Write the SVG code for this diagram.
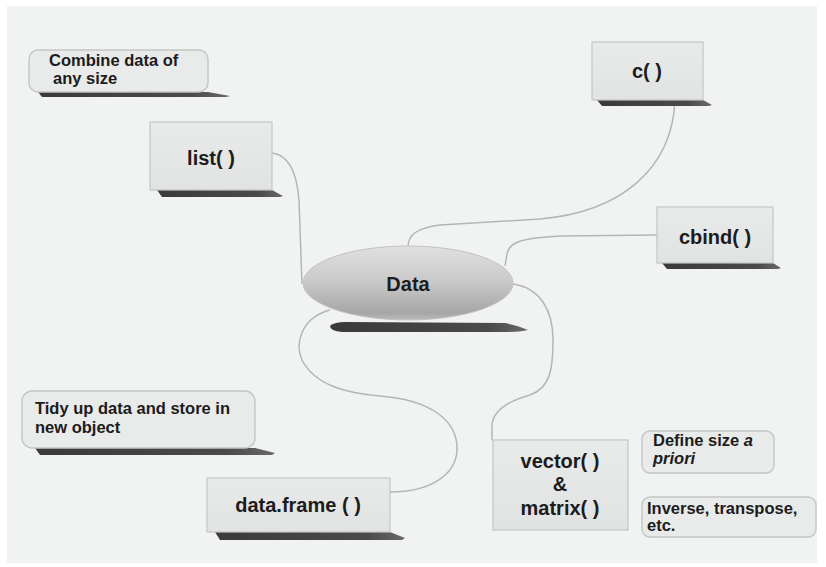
<svg xmlns="http://www.w3.org/2000/svg" width="826" height="567" viewBox="0 0 826 567">
  <style>
    .box { fill: url(#boxFill); stroke: #c4c6c6; stroke-width: 1.2; }
    .note { fill: #e9eaea; stroke: #c4c6c6; stroke-width: 1.4; }
    .shadow { fill: url(#shadowFill); }
    .lbl { font-family: "Liberation Sans", Arial, sans-serif; font-weight: bold; fill: #1c1c1c; }
    .big { font-size: 20px; text-anchor: middle; }
    .small { font-size: 16.5px; }
    .link { fill: none; stroke: #b4b6b6; stroke-width: 1.5; }
  </style>
  <defs>
    <linearGradient id="boxFill" x1="0" y1="0" x2="0" y2="1">
      <stop offset="0" stop-color="#e9eaea"/>
      <stop offset="1" stop-color="#e1e2e2"/>
    </linearGradient>
    <linearGradient id="shadowFill" x1="0" y1="0" x2="1" y2="0">
      <stop offset="0" stop-color="#3a3a3a"/>
      <stop offset="0.8" stop-color="#4a4a4a"/>
      <stop offset="1" stop-color="#6a6a6a"/>
    </linearGradient>
    <linearGradient id="ellFill" x1="0" y1="0" x2="0" y2="1">
      <stop offset="0" stop-color="#e0e0e0"/>
      <stop offset="0.5" stop-color="#c8c8c8"/>
      <stop offset="0.9" stop-color="#a6a6a6"/>
      <stop offset="1" stop-color="#bababa"/>
    </linearGradient>
  </defs>

  <!-- page background -->
  <rect x="0" y="0" width="826" height="567" fill="#ffffff"/>
  <rect x="7" y="6" width="810" height="557" fill="#f1f3f3"/>

  <!-- connectors -->
  <g id="connectors">
    <path class="link" d="M272,153 C290,155 297,175 299,200 L302,284"/>
    <path class="link" d="M408,247 C408,234 418,228 440,225 L540,219 C620,212 672,170 675,100"/>
    <path class="link" d="M657,235 L560,236 C522,238 509,242 507,254 L505,266"/>
    <path class="link" d="M513,284 C540,288 553,310 553,340 C553,370 550,388 530,395 C505,402 493,412 492,425 L492,440"/>
    <path class="link" d="M330,310 C300,318 295,345 302,360 C315,385 345,393 380,396 C430,400 458,420 457,450 C456,475 430,492 390,492"/>
  </g>

  <!-- central node -->
  <g id="node-data">
    <path class="shadow" d="M330,326 Q334,322 346,322 L505,323 Q520,326 528,330 Q520,332 505,332 L342,332 Q330,331 330,326 Z"/>
    <ellipse cx="408" cy="283" rx="105" ry="37" fill="url(#ellFill)" stroke="#c2c2c2" stroke-width="1"/>
    <text class="lbl big" x="408" y="291">Data</text>
  </g>

  <g id="node-combine-note">
    <path class="shadow" d="M38,92 L208,92 L230,96 L226,97 L42,97 Z"/>
    <rect class="note" x="29" y="50" width="179" height="42" rx="9"/>
    <text class="lbl small" x="49" y="66">Combine data of</text>
    <text class="lbl small" x="53" y="84">any size</text>
  </g>

  <g id="node-list">
    <path class="shadow" d="M157,190 L272,190 L283,196 L280,197 L162,197 Z"/>
    <rect class="box" x="150" y="122" width="122" height="68"/>
    <text class="lbl big" x="211" y="165">list( )</text>
  </g>

  <g id="node-c">
    <path class="shadow" d="M597,100 L703,100 L712,105 L709,106 L602,106 Z"/>
    <rect class="box" x="592" y="42" width="111" height="58"/>
    <text class="lbl big" x="647" y="78">c( )</text>
  </g>

  <g id="node-cbind">
    <path class="shadow" d="M662,263 L773,263 L781,268 L778,269 L667,269 Z"/>
    <rect class="box" x="657" y="207" width="116" height="56"/>
    <text class="lbl big" x="715" y="244">cbind( )</text>
  </g>

  <g id="node-tidy-note">
    <path class="shadow" d="M35,448 L255,448 L275,453 L272,455 L40,455 Z"/>
    <rect class="note" x="22" y="391" width="233" height="57" rx="10"/>
    <text class="lbl small" x="35" y="414">Tidy up data and store in</text>
    <text class="lbl small" x="35" y="433">new object</text>
  </g>

  <g id="node-dataframe">
    <path class="shadow" d="M215,532 L390,532 L405,538 L402,540 L220,540 Z"/>
    <rect class="box" x="207" y="478" width="183" height="54"/>
    <text class="lbl big" x="298" y="512">data.frame ( )</text>
  </g>

  <g id="node-vector-matrix">
    <rect class="box" x="493" y="440" width="135" height="90"/>
    <text class="lbl big" x="560" y="468">vector( )</text>
    <text class="lbl big" x="560" y="491">&amp;</text>
    <text class="lbl big" x="560" y="515">matrix( )</text>
  </g>

  <g id="node-define-note">
    <rect class="note" x="642" y="431" width="132" height="42" rx="8"/>
    <text class="lbl small" x="653" y="446">Define size <tspan font-style="italic">a</tspan></text>
    <text class="lbl small" x="653" y="464" font-style="italic">priori</text>
  </g>

  <g id="node-inverse-note">
    <rect class="note" x="642" y="497" width="174" height="40" rx="8"/>
    <text class="lbl small" x="647" y="514">Inverse, transpose,</text>
    <text class="lbl small" x="647" y="531">etc.</text>
  </g>
</svg>
